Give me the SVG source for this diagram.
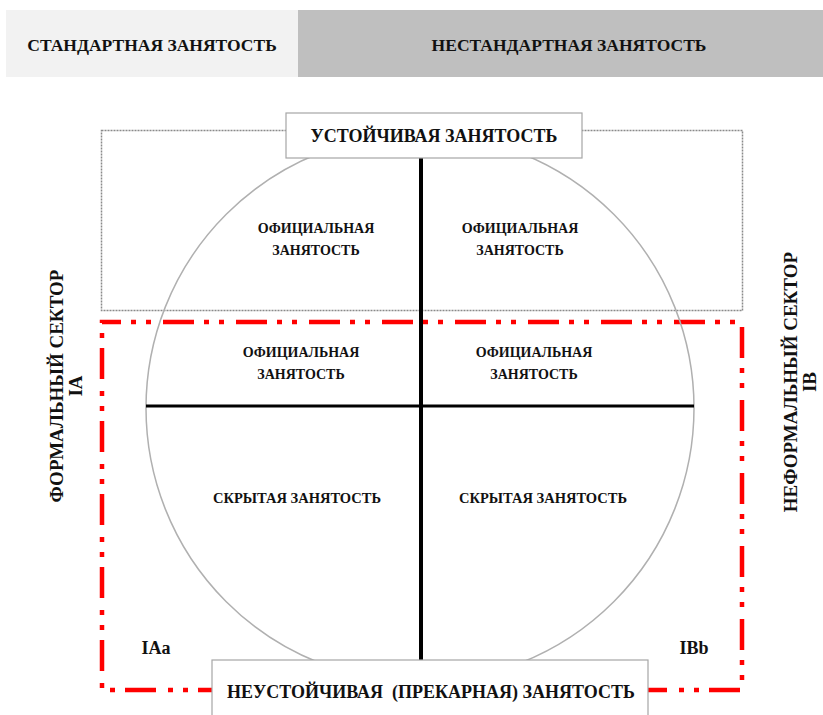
<svg xmlns="http://www.w3.org/2000/svg" width="823" height="715" viewBox="0 0 823 715">
<style>
text{font-family:"Liberation Serif","Times New Roman",serif;font-weight:bold;fill:#111;text-anchor:middle}
.hdr{font-size:17.5px}
.q{font-size:14px}
.q2{font-size:14.5px}
.lab{font-size:18px}
.side{font-size:19px}
.box{fill:#fff;stroke:#a6a6a6;stroke-width:1.2}
</style>
<rect width="823" height="715" fill="#fff"/>
<g id="header-standard">
<rect x="6" y="10" width="292" height="67" fill="#f2f2f2"/>
<text class="hdr" x="152" y="51">СТАНДАРТНАЯ ЗАНЯТОСТЬ</text>
</g>
<g id="header-nonstandard">
<rect x="298" y="10" width="525" height="67" fill="#bfbfbf"/>
<text class="hdr" x="569" y="51">НЕСТАНДАРТНАЯ ЗАНЯТОСТЬ</text>
</g>
<g id="stable-zone">
<rect x="101.5" y="130.5" width="641" height="180" fill="none" stroke="#8a8a8a" stroke-width="1.5" stroke-dasharray="2 1"/>
</g>
<g id="precarious-zone">
<rect x="102" y="322" width="640" height="368" fill="none" stroke="#ff0000" stroke-width="4.5" stroke-dasharray="31 10 5 10 5 12" stroke-dashoffset="12"/>
</g>
<g id="circle">
<circle cx="420" cy="408" r="274" fill="none" stroke="#b0b0b0" stroke-width="1.5"/>
</g>
<g id="connectors">
<line x1="421" y1="158" x2="421" y2="660" stroke="#000" stroke-width="4"/>
<line x1="146" y1="406" x2="694" y2="406" stroke="#000" stroke-width="3"/>
</g>
<g id="stable">
<rect class="box" x="286" y="113" width="296" height="45"/>
<text class="lab" x="434" y="142">УСТОЙЧИВАЯ ЗАНЯТОСТЬ</text>
</g>
<g id="precarious">
<rect class="box" x="212" y="660" width="436" height="60"/>
<text class="lab" x="431" y="698" style="white-space:pre">НЕУСТОЙЧИВАЯ  (ПРЕКАРНАЯ) ЗАНЯТОСТЬ</text>
</g>
<g id="q-tl"><text class="q" x="316" y="233">ОФИЦИАЛЬНАЯ</text><text class="q" x="316" y="255">ЗАНЯТОСТЬ</text></g>
<g id="q-tr"><text class="q" x="520" y="233">ОФИЦИАЛЬНАЯ</text><text class="q" x="520" y="255">ЗАНЯТОСТЬ</text></g>
<g id="q-ml"><text class="q" x="301" y="357">ОФИЦИАЛЬНАЯ</text><text class="q" x="301" y="379">ЗАНЯТОСТЬ</text></g>
<g id="q-mr"><text class="q" x="534" y="357">ОФИЦИАЛЬНАЯ</text><text class="q" x="534" y="379">ЗАНЯТОСТЬ</text></g>
<g id="q-bl"><text class="q2" x="297" y="503">СКРЫТАЯ ЗАНЯТОСТЬ</text></g>
<g id="q-br"><text class="q2" x="543" y="503">СКРЫТАЯ ЗАНЯТОСТЬ</text></g>
<g id="iaa"><text class="lab" x="156" y="654">IAa</text></g>
<g id="ibb"><text class="lab" x="694" y="654">IBb</text></g>
<g id="formal">
<text class="side" transform="translate(63,386) rotate(-90)">ФОРМАЛЬНЫЙ СЕКТОР</text>
<text class="side" transform="translate(82,386) rotate(-90)">IA</text>
</g>
<g id="informal">
<text class="side" transform="translate(797,382) rotate(-90)">НЕФОРМАЛЬНЫЙ СЕКТОР</text>
<text class="side" transform="translate(816,382) rotate(-90)">IB</text>
</g>
</svg>
